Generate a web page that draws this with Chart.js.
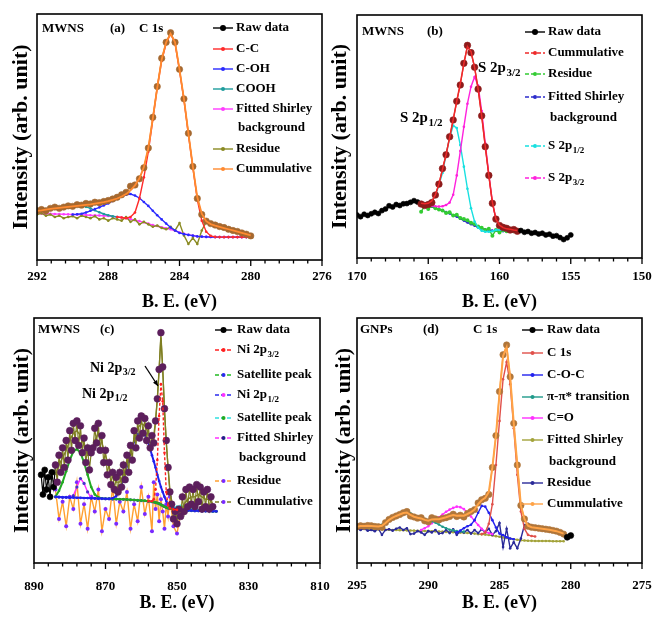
<!DOCTYPE html>
<html>
<head>
<meta charset="utf-8">
<script src="https://cdn.jsdelivr.net/npm/chart.js@4.4.1/dist/chart.umd.min.js"></script>
<style>
  html, body { margin: 0; padding: 0; background: #fff; }
  #wrap { position: relative; width: 654px; height: 619px; overflow: hidden; }
  canvas { position: absolute; }
</style>
</head>
<body>
<div id="wrap">
  <canvas id="chA" width="352" height="316" style="left:0;top:0"></canvas>
  <canvas id="chB" width="345" height="316" style="left:327px;top:0"></canvas>
  <canvas id="chC" width="350" height="309" style="left:0;top:310px"></canvas>
  <canvas id="chD" width="345" height="309" style="left:327px;top:310px"></canvas>
</div>
<script>
const FONT = "'Liberation Serif', 'Times New Roman', serif";
Chart.defaults.font.family = FONT;
Chart.defaults.font.weight = 'bold';
Chart.defaults.color = '#000';

// ---------- (a) MWNS, C 1s ----------
const beA = [292, 291.75, 291.5, 291.25, 291, 290.75, 290.5, 290.25, 290, 289.75, 289.5, 289.25, 289, 288.75, 288.5, 288.25,
  288, 287.75, 287.5, 287.25, 287, 286.75, 286.5, 286.25, 286, 285.75, 285.5, 285.25, 285, 284.75, 284.5, 284.25,
  284, 283.75, 283.5, 283.25, 283, 282.75, 282.5, 282.25, 282, 281.75, 281.5, 281.25, 281, 280.75, 280.5, 280.25, 280];
const rawA = [20, 20.5, 20, 21, 21.5, 21, 21.5, 22, 21.8, 22.5, 22.3, 23, 22.8, 23.5, 23.3, 23.8,
  24.2, 24.8, 25.5, 26.5, 27.5, 30, 30.5, 33, 37.5, 45.5, 58, 70.5, 82, 88.5, 92.4, 88.5,
  77.5, 65.5, 51.5, 38, 25, 18.5, 15.8, 14.8, 14.2, 13.6, 13.2, 12.5, 12, 11.6, 11, 10.5, 9.8];
const cumA = [20, 20.2, 20.5, 20.8, 21, 21.2, 21.4, 21.6, 21.8, 22, 22.2, 22.4, 22.6, 22.9, 23.2, 23.5,
  23.9, 24.4, 25, 25.8, 26.8, 28.3, 30.3, 33.2, 37.8, 45.5, 57.5, 70, 81.5, 88.5, 92, 88.5,
  77.5, 65.5, 51.5, 38, 25.5, 18.8, 15.8, 14.6, 14, 13.5, 13, 12.5, 12, 11.5, 11, 10.5, 10];
const ccA = [null, null, null, null, null, null, null, null, null, null, null, null, null, null, null, null,
  null, null, 17.5, 17.3, 17, 17.5, 19.3, 25, 33.6, 44, 57, 70, 81, 88, 92, 88,
  77, 65, 51, 37.5, 24.5, 16, 11.5, 9.8, 9.4, 9.3, 9.3, 9.3, 9.3, 9.3, 9.3, 9.3, 9.3];
const cohA = [null, null, null, null, null, null, null, null, 18.5, 18.6, 18.8, 19.3, 20, 20.7, 21.4, 22.2,
  23, 24, 24.9, 25.9, 26.5, 26.8, 26.2, 25.2, 23.6, 22, 20, 18.2, 16.5, 14.8, 13.2, 12,
  11, 10.5, 10.2, 9.9, 9.6, 9.5, 9.4, 9.35, 9.3, 9.3, 9.3, 9.3, 9.3, 9.3, 9.3, 9.3, 9.3];
const coohA = [19.8, 20, 20.3, 20.6, 21, 21.3, 21.6, 21.8, 22, 22.1, 22, 21.6, 21, 20.2, 19.4, 18.7,
  18.2, 17.8, 17.5, null, null, null, null, null, null, null, null, null, null, null, null, null,
  null, null, null, null, null, null, null, null, null, null, null, null, null, null, null, null, null];
const bgA = [18.9, 18.85, 18.8, 18.75, 18.7, 18.65, 18.6, 18.55, 18.5, 18.45, 18.4, 18.3, 18.2, 18.15, 18.1, 18,
  17.9, 17.7, 17.5, 17.25, 17, 16.6, 16.2, 15.8, 15.3, 14.8, 14.2, 13.8, 13.3, 12.9, 12.5, 11.9,
  11.2, 10.7, 10.2, 9.9, 9.6, 9.5, 9.4, 9.35, 9.3, 9.3, 9.3, 9.3, 9.3, 9.3, 9.3, 9.3, 9.3];
const resA = [18.5, 19, 18, 18.5, 17.5, 18, 17, 17.5, 17.8, 17, 18, 17.5, 17, 17.8, 16.5, 17,
  16, 17, 16.5, 16, 17.5, 15.5, 16.5, 14.5, 15.5, 14.5, 13.5, 14, 13, 12.5, 13.5, 12,
  15, 10, 6.5, 9, 6.5, 12, 15.5, null, null, null, null, null, null, null, null, null, null];

// ---------- (b) MWNS, S 2p ----------
const beB = [170, 169.75, 169.5, 169.25, 169, 168.75, 168.5, 168.25, 168, 167.75, 167.5, 167.25, 167, 166.75, 166.5, 166.25,
  166, 165.75, 165.5, 165.25, 165, 164.75, 164.5, 164.25, 164, 163.75, 163.5, 163.25, 163, 162.75, 162.5, 162.25,
  162, 161.75, 161.5, 161.25, 161, 160.75, 160.5, 160.25, 160, 159.75, 159.5, 159.25, 159, 158.75, 158.5, 158.25,
  158, 157.75, 157.5, 157.25, 157, 156.75, 156.5, 156.25, 156, 155.75, 155.5, 155.25, 155];
const rawB = [17.7, 17, 18, 17.5, 18.2, 18.8, 18.3, 19.5, 20.2, 21.5, 21, 22, 21.6, 22.3, 22.4, 22.9,
  23.6, 23, 22.2, 21.6, 22, 22.8, 25.9, 30.4, 36.8, 42.5, 49.9, 56.8, 64.5, 71.2, 80.1, 87.5,
  84.5, 78.5, 69.5, 58.5, 45.8, 34, 22.5, 16, 13.4, 12.6, 12.2, 11.5, 11.7, 11, 11.3, 10.6,
  10.9, 10.2, 10.5, 9.9, 10.2, 9.5, 9.8, 9, 9.2, 8.4, 7.6, 8.3, 9.5];
const beFitB = [165.5, 165.25, 165, 164.75, 164.5, 164.25, 164, 163.75, 163.5, 163.25, 163, 162.75, 162.5, 162.25,
  162, 161.75, 161.5, 161.25, 161, 160.75, 160.5, 160.25, 160, 159.75, 159.5, 159.25, 159, 158.75];
const cumB = [22.5, 22.3, 22.5, 23.5, 26, 30.5, 36.5, 42.5, 49.5, 57, 64.5, 72, 80, 87,
  85, 78.5, 69.5, 58.5, 46, 34, 23, 16, 13.5, 12.5, 12, 11.8, 11.5, 11.3];
const resB = [19, 21.5, 20.2, 21.5, 20.5, 20, 19.5, 18.5, 18.8, 17.5, 17.8, 16.5, 16, 15.5,
  14.5, 14, 13, 12.5, 11.5, 12, 9.2, 11.5, 10.5, 11.5, 11, 11.5, 11, 11.2];
const bgB = [22.2, 22, 21.6, 21.1, 20.6, 20.1, 19.5, 18.9, 18.3, 17.6, 17, 16.2, 15.4, 14.6,
  13.9, 13.3, 12.7, 12.2, 11.8, 11.5, 11.3, 11.2, 11.1, 11, 11, 10.9, 10.9, 10.8];
const s12B = [22.3, 22.5, 22.8, 23.5, 25.5, 30, 35, 42.5, 49.5, 54.5, 53.5, 46.5, 37.6, 28.5,
  20.5, 15, 12.5, 11.2, 10.8, 10.8, 11, 11.5, 11.6, 11.5, 11.3, 11.2, 11, 10.9];
const s32B = [22.3, 22, 21.8, 21.5, 21.3, 21.2, 21.3, 21.8, 22.8, 26, 34, 44, 54, 63.5,
  70.5, 74.5, 71, 60.5, 47.2, 34.5, 23, 16, 13.5, 12.3, 11.6, 11.3, 11.1, 10.9];

// ---------- (c) MWNS, Ni 2p ----------
const beC = [888, 887.5, 887, 886.5, 886, 885.5, 885, 884.5, 884, 883.5, 883, 882.5, 882, 881.5, 881, 880.5,
  880, 879.5, 879, 878.5, 878, 877.5, 877, 876.5, 876, 875.5, 875, 874.5, 874, 873.5, 873, 872.5,
  872, 871.5, 871, 870.5, 870, 869.5, 869, 868.5, 868, 867.5, 867, 866.5, 866, 865.5, 865, 864.5,
  864, 863.5, 863, 862.5, 862, 861.5, 861, 860.5, 860, 859.5, 859, 858.5, 858, 857.5, 857, 856.5,
  856, 855.5, 855, 854.5, 854, 853.5, 853, 852.5, 852, 851.5, 851, 850.5, 850, 849.5, 849, 848.5,
  848, 847.5, 847, 846.5, 846, 845.5, 845, 844.5, 844, 843.5, 843, 842.5, 842, 841.5, 841, 840.5, 840];
const rawC = [36, 28, 38, 30, 35, 27, 37, 31, 40, 33, 44, 37, 47, 39, 50, 42,
  54, 46, 57, 50, 58, 48, 56, 45, 51, 41, 47, 38, 45, 47, 55, 49,
  57, 46, 52, 41, 46, 36, 41, 32, 37, 30, 35, 29, 37, 31, 40, 34,
  44, 37, 48, 42, 54, 47, 58, 51, 60, 53, 59, 50, 56, 47, 52, 49,
  58, 67, 79, 94, 80, 63, 50, 39, 29, 24, 18, 21, 16, 22, 19, 27,
  21, 30, 23, 31, 24, 30, 23, 32, 25, 31, 22, 29, 23, 30, 22, 27, 23];
const beFitC = [884, 883, 882, 881, 880, 879, 878, 877, 876, 875, 874, 873, 872, 871, 870, 869, 868, 867, 866, 865,
  864, 863, 862, 861, 860, 859, 858, 857, 856.5, 856, 855.5, 855, 854.5, 854, 853.5, 853, 852.5, 852,
  851, 850, 849, 848, 847, 846, 845, 844, 843, 842, 841, 840, 839];
const ni32C = [null, null, null, null, null, null, null, null, null, null, null, null, null, null, null, null,
  null, null, null, null, null, null, null, null, null, null, 25.2, 25.2, 26, 30, 42, 60, 73, 66, 45, 29, 23.5, 22.3,
  21.9, 21.7, null, null, null, null, null, null, null, null, null, null, null];
const sat1C = [27, 29.5, 33, 37.5, 42, 45.5, 46.5, 45, 41, 36, 31, 28, 26.8, 26.4, 26.2, 26.2, 26.1, 26.1, 26, 26,
  25.9, 25.8, 25.7, 25.6, 25.5, 25.4, 25.2, 25, 24.9, 24.7, 24.5, 24.2, 23.8, 23.4, 23, 22.7, 22.4, 22.2,
  21.9, 21.7, 21.6, 21.5, 21.4, 21.4, 21.3, 21.3, 21.2, 21.2, 21.2, 21.1, 21.1];
const ni12C = [27, 26.9, 26.8, 26.8, 26.7, 26.7, 26.6, 26.6, 26.5, 26.5, 26.4, 26.4, 26.3, 26.3, 26.2, 26.2, 26.4, 27.3, 30, 34,
  39.5, 45, 49.5, 52.5, 53.6, 52.5, 49, 44, 41.5, 39, 36, 33.5, 31, 29, 27, 25.3, 24, 23.2,
  22.3, 21.9, 21.7, 21.5, 21.4, 21.4, 21.3, 21.3, 21.2, 21.2, 21.2, 21.1, 21.1];
const sat2C = [null, null, null, null, null, null, null, null, null, null, null, null, null, null, null, null, null, null, null, null,
  null, null, null, null, null, null, null, null, null, null, null, null, null, null, null, null, null, 22.2,
  22.5, 23, 23.3, 23.2, 22.7, 22.2, 21.8, 21.5, 21.3, 21.2, 21.2, 21.1, null];
const bgC = [27, 26.9, 26.8, 26.8, 26.7, 27.5, 31, 34.5, 32.5, 29, 26.5, 26.4, 26.3, 26.3, 26.2, 26.2, 26.1, 26.1, 26, 26,
  25.9, 25.8, 25.7, 25.6, 25.5, 25.4, 25.2, 25, 24.9, 24.7, 24.5, 24.2, 23.8, 23.4, 23, 22.7, 22.4, 22.2,
  21.9, 21.7, 21.6, 21.5, 21.4, 21.4, 21.3, 21.3, 21.2, 21.2, 21.2, 21.1, 21.1];
const resC = [30, 18, 25, 15, 27, 22, 33, 16, 24, 14, 27, 21, 30, 13, 22, 18, 31, 16, 25, 21,
  29, 14, 24, 17, 31, 20, 27, 13, 33, 22, 28, 17, 26, 21, 14, 24, 19, 27,
  15, 12, 20, null, null, null, null, null, null, null, null, null, null];
const cumC = [36, 40, 43, 46, 50, 53, 54, 52, 48, 44, 44, 50, 53, 49, 44, 39, 35, 33, 33, 36,
  40, 45, 50, 55, 57, 56, 53, 50, 52, 58, 67, 79, 92, 79, 62, 49, 39, 30,
  21, 19, 21, 24, 26, 27, 27, 28, 27, 26, 26, 24, null];

// ---------- (d) GNPs, C 1s ----------
const beD = [295, 294.75, 294.5, 294.25, 294, 293.75, 293.5, 293.25, 293, 292.75, 292.5, 292.25, 292, 291.75, 291.5, 291.25,
  291, 290.75, 290.5, 290.25, 290, 289.75, 289.5, 289.25, 289, 288.75, 288.5, 288.25, 288, 287.75, 287.5, 287.25,
  287, 286.75, 286.5, 286.25, 286, 285.75, 285.5, 285.25, 285, 284.75, 284.5, 284.25, 284, 283.75, 283.5, 283.25,
  283, 282.75, 282.5, 282.25, 282, 281.75, 281.5, 281.25, 281, 280.75, 280.5, 280.25, 280];
const rawD = [14.8, 15.2, 15, 15.3, 15.2, 14.9, 14.8, 14.6, 16.5, 17.8, 18.6, 19.2, 19.8, 20.5, 21, 19.2,
  18.8, 18.3, 18.5, 17.2, 16.8, 18.5, 18, 17.6, 18.2, 18.5, 19, 19.9, 19, 19.5, 18.8, 20.2,
  21, 21.8, 24.5, 25.8, 26.4, 28, 39, 52, 70, 85, 89, 76, 57, 40, 23.5, 18,
  15, 14.6, 14.4, 14.2, 14, 13.8, 13.6, 13.3, 13, 12.5, 11.8, 10.5, 11.2];
const c1sD = [null, null, null, null, null, null, null, null, null, null, null, null, null, null, null, null,
  null, null, null, null, null, null, null, null, null, null, null, null, null, null, null, null,
  null, null, null, 11.8, 12.5, 16, 24, 40, 58, 75, 82, 73, 55, 36, 21, 14,
  11.5, 11, 10.8, null, null, null, null, null, null, null, null, null, null];
const cocD = [null, null, null, null, null, null, null, null, null, null, null, null, null, null, null, null,
  null, null, null, null, null, null, null, null, null, null, null, null, 12.5, 13.2, 14.2, 15,
  15.6, 17.5, 20.5, 23.3, 23, 20.5, 17.5, 14.5, 12, 11.4, 10.5, 10, 9.7, null, null, null,
  null, null, null, null, null, null, null, null, null, null, null, null, null];
const piD = [14.6, 14.6, 14.6, 14.7, 14.8, 14.9, 15.2, 15.6, 16.5, 17.5, 18.5, 19.3, 20, 20.5, 20.8, 20.3,
  19.5, 18.9, 18.3, 17.9, 17.5, 17, 16.5, 15.7, 14.8, 14.2, 13.6, 13.3, 13, 12.9, 12.8, null,
  null, null, null, null, null, null, null, null, null, null, null, null, null, null, null, null,
  null, null, null, null, null, null, null, null, null, null, null, null, null];
const coD = [null, null, null, null, null, null, null, null, null, null, null, null, null, null, null, null,
  null, null, 13.5, 14.2, 15, 16.2, 17.5, 18.7, 19.8, 20.9, 21.8, 22.5, 23, 22.8, 22, 20.6,
  19, 17.2, 15.5, 14, 12.8, 12.2, 11.8, null, null, null, null, null, null, null, null, null,
  null, null, null, null, null, null, null, null, null, null, null, null, null];
const bgD = [14, 13.95, 13.9, 13.85, 13.8, 13.75, 13.7, 13.65, 13.6, 13.55, 13.5, 13.45, 13.4, 13.35, 13.3, 13.25,
  13.2, 13.15, 13.1, 13.05, 13, 12.95, 12.9, 12.85, 12.8, 12.7, 12.6, 12.55, 12.5, 12.4, 12.3, 12.25,
  12.2, 12, 11.8, 11.7, 11.6, 11.4, 11.2, 10.95, 10.7, 10.45, 10.2, 9.95, 9.7, 9.5, 9.3, 9.2,
  9.1, 9.05, 9, 9, 9, 8.95, 8.95, 8.9, 8.9, 8.9, 8.9, null, null];
const resD = [14, 13.5, 14, 13.2, 13.5, 13, 14, 11.5, 13.5, 13.8, 13.2, 14, 14.5, 13.5, 14.2, 11.8,
  12, 13, 12.5, 11.5, 13, 12.5, 13.5, 12, 12.2, 13.5, 12.2, 13.8, 11.5, 13, 12.5, 13.5,
  12, 13.5, 12.2, 13.8, 12.5, 14, 11.5, 13, 16.3, 6.5, 14, 6, 8.5, 6, 10, 15.5,
  16, null, null, null, null, null, null, null, null, null, null, null, null];
const cumD = [14.8, 15.1, 15.1, 15.2, 15.1, 15, 14.9, 15.2, 16.3, 17.6, 18.5, 19.2, 19.8, 20.4, 20.6, 19.6,
  18.9, 18.5, 18.2, 17.6, 17.3, 17.8, 17.9, 17.9, 18.3, 18.7, 19.2, 19.6, 19.3, 19.4, 19.3, 20,
  20.8, 21.8, 24, 25.6, 26.6, 29, 39, 52, 69, 84.5, 88, 76, 57, 40, 23.5, 18,
  15.2, 14.6, 14.4, 14.2, 14, 13.8, 13.6, 13.3, 13, 12.5, 12, null, null];

// ---------- helpers ----------
function pts(be, ys) {
  return be.map((x, i) => ({ x: x, y: ys[i] }));
}

function fit(label, be, ys, color, extra) {
  return Object.assign({
    label: label,
    data: pts(be, ys),
    borderColor: color,
    backgroundColor: color,
    borderWidth: 1.4,
    pointRadius: 1.3,
    pointBorderWidth: 0,
    pointBackgroundColor: color,
    spanGaps: false
  }, extra || {});
}

// raw data: tinted where the fit covers it, black outside
function raw(be, ys, hi, lo, tint, lineTint, rIn, rOut) {
  const inFit = x => x <= hi && x >= lo;
  return {
    label: 'Raw data',
    data: pts(be, ys),
    borderColor: '#000',
    borderWidth: 1.2,
    segment: {
      borderColor: c => (inFit(c.p0.parsed.x) && inFit(c.p1.parsed.x)) ? lineTint : '#000'
    },
    pointRadius: c => (c.raw && !inFit(c.raw.x)) ? rOut : rIn,
    pointBackgroundColor: c => (c.raw && !inFit(c.raw.x)) ? '#000' : tint,
    pointBorderColor: c => (c.raw && !inFit(c.raw.x)) ? '#000' : tint,
    pointBorderWidth: 0.6
  };
}

function drawRich(ctx, x, y, parts, size) {
  let cx = x;
  parts.forEach(p => {
    if (typeof p === 'string') {
      ctx.font = 'bold ' + size + 'px ' + FONT;
      ctx.fillText(p, cx, y);
      cx += ctx.measureText(p).width;
    } else {
      const s = Math.round(size * 0.7);
      ctx.font = 'bold ' + s + 'px ' + FONT;
      ctx.fillText(p.sub, cx + 0.5, y + size * 0.35);
      cx += ctx.measureText(p.sub).width + 0.5;
    }
  });
}

const panelDeco = {
  id: 'panelDeco',
  afterDraw(chart, args, o) {
    const ctx = chart.ctx, a = chart.chartArea, xs = chart.scales.x;
    ctx.save();
    ctx.strokeStyle = '#000';
    ctx.lineWidth = 1.6;
    ctx.strokeRect(a.left, a.top, a.right - a.left, a.bottom - a.top);

    // major + 4 minor ticks, pointing down
    ctx.lineWidth = 1.3;
    const n = Math.round((xs.max - xs.min) / o.step) * 5;
    for (let k = 0; k <= n; k++) {
      const px = xs.getPixelForValue(xs.min + k * o.step / 5);
      ctx.beginPath();
      ctx.moveTo(px, a.bottom);
      ctx.lineTo(px, a.bottom + (k % 5 === 0 ? 6 : 3.5));
      ctx.stroke();
    }

    ctx.fillStyle = '#000';
    ctx.textBaseline = 'middle';
    ctx.textAlign = 'left';
    o.notes.forEach(nt => drawRich(ctx, nt.x, nt.y, nt.parts, nt.size || 13));

    if (o.arrow) {
      const [x0, y0, x1, y1] = o.arrow;
      ctx.strokeStyle = '#000';
      ctx.lineWidth = 1.3;
      ctx.beginPath(); ctx.moveTo(x0, y0); ctx.lineTo(x1, y1); ctx.stroke();
      const ang = Math.atan2(y1 - y0, x1 - x0);
      ctx.beginPath();
      ctx.moveTo(x1, y1);
      ctx.lineTo(x1 - 6 * Math.cos(ang - 0.4), y1 - 6 * Math.sin(ang - 0.4));
      ctx.lineTo(x1 - 6 * Math.cos(ang + 0.4), y1 - 6 * Math.sin(ang + 0.4));
      ctx.closePath(); ctx.fill();
    }

    const L = o.legend;
    L.items.forEach(it => {
      ctx.strokeStyle = it.line;
      ctx.lineWidth = 1.4;
      ctx.setLineDash(it.dash ? [4, 2] : []);
      ctx.beginPath(); ctx.moveTo(L.x0, it.y); ctx.lineTo(L.x1, it.y); ctx.stroke();
      ctx.setLineDash([]);
      ctx.fillStyle = it.dot;
      ctx.beginPath(); ctx.arc((L.x0 + L.x1) / 2, it.y, it.r || 2, 0, Math.PI * 2); ctx.fill();
      ctx.fillStyle = '#000';
      drawRich(ctx, L.tx, it.y, it.parts, 13);
      if (it.more) drawRich(ctx, L.tx + 2, it.y + it.more.dy, it.more.parts, 13);
    });
    ctx.restore();
  }
};

function makeChart(id, datasets, g) {
  return new Chart(document.getElementById(id), {
    type: 'line',
    data: { datasets: datasets },
    options: {
      responsive: false,
      animation: false,
      layout: { padding: { left: 0, right: g.right, top: g.top, bottom: 0 } },
      scales: {
        x: {
          type: 'linear', reverse: true, min: g.min, max: g.max,
          afterFit: s => { s.height = g.xh; },
          grid: { display: false, drawTicks: false },
          border: { display: false },
          ticks: { stepSize: g.step, padding: g.tp, autoSkip: false, maxRotation: 0, color: '#000',
                   font: { size: 13, weight: 'bold' } },
          title: { display: true, text: 'B. E. (eV)', color: '#000',
                   font: { size: 18, weight: 'bold' }, padding: { top: 0, bottom: g.tb } }
        },
        y: {
          min: 0, max: 100,
          afterFit: s => { s.width = g.yw; },
          grid: { display: false },
          border: { display: false },
          ticks: { display: false },
          title: { display: true, text: 'Intensity (arb. unit)', color: '#000',
                   font: { size: 22, weight: 'bold' }, padding: { top: g.yt, bottom: 0 } }
        }
      },
      plugins: {
        legend: { display: false },
        tooltip: { enabled: false },
        panelDeco: g.deco
      }
    },
    plugins: [panelDeco]
  });
}

// ---------- panel (a) ----------
makeChart('chA', [
  fit('Cummulative', beA, cumA, '#ff8a30', { borderWidth: 1.8, pointRadius: 0 }),
  raw(beA, rawA, 292, 280, '#a5682f', '#ff8a30', 3.2, 3.2),
  fit('C-C', beA, ccA, '#ff2a2a'),
  fit('C-OH', beA, cohA, '#2a2aff'),
  fit('COOH', beA, coohA, '#1f9c9c'),
  fit('Residue', beA, resA, '#8a8a22'),
  fit('Fitted Shirley background', beA, bgA, '#ff3cff')
], {
  min: 276, max: 292, step: 4, right: 30, top: 14, yw: 37, xh: 56, tp: 8.5, tb: 3, yt: 8,
  deco: {
    step: 4,
    notes: [
      { x: 42, y: 29, parts: ['MWNS'] },
      { x: 110, y: 29, parts: ['(a)'] },
      { x: 139, y: 29, parts: ['C 1s'] }
    ],
    legend: {
      x0: 213, x1: 233, tx: 236,
      items: [
        { parts: ['Raw data'], line: '#000', dot: '#000', r: 3, y: 28 },
        { parts: ['C-C'], line: '#ff2a2a', dot: '#ff2a2a', y: 49 },
        { parts: ['C-OH'], line: '#2a2aff', dot: '#2a2aff', y: 69 },
        { parts: ['COOH'], line: '#1f9c9c', dot: '#1f9c9c', y: 89 },
        { parts: ['Fitted Shirley'], line: '#ff3cff', dot: '#ff3cff', y: 109, more: { dy: 19, parts: ['background'] } },
        { parts: ['Residue'], line: '#8a8a22', dot: '#8a8a22', y: 149 },
        { parts: ['Cummulative'], line: '#ff8a30', dot: '#ff8a30', y: 169 }
      ]
    }
  }
});

// ---------- panel (b) ----------
makeChart('chB', [
  fit('Cummulative', beFitB, cumB, '#ee2a2a', { borderWidth: 1.5, pointRadius: 0 }),
  raw(beB, rawB, 165.5, 158.75, '#8e1b1b', '#ee2a2a', 3.3, 2.5),
  fit('S 2p3/2', beFitB, s32B, '#ff22dd'),
  fit('S 2p1/2', beFitB, s12B, '#18e0e0'),
  fit('Residue', beFitB, resB, '#33cc33', { pointRadius: 2 }),
  fit('Fitted Shirley background', beFitB, bgB, '#2d2dcc')
], {
  min: 150, max: 170, step: 5, right: 30, top: 15, yw: 30, xh: 58, tp: 10.5, tb: 3, yt: 0,
  deco: {
    step: 5,
    notes: [
      { x: 35, y: 32, parts: ['MWNS'] },
      { x: 100, y: 32, parts: ['(b)'] },
      { x: 151, y: 68, parts: ['S 2p', { sub: '3/2' }], size: 15 },
      { x: 73, y: 118, parts: ['S 2p', { sub: '1/2' }], size: 15 }
    ],
    legend: {
      x0: 198, x1: 218, tx: 221,
      items: [
        { parts: ['Raw data'], line: '#000', dot: '#000', r: 3, y: 32 },
        { parts: ['Cummulative'], line: '#ee2a2a', dot: '#ee2a2a', dash: true, y: 53 },
        { parts: ['Residue'], line: '#33cc33', dot: '#33cc33', dash: true, y: 74 },
        { parts: ['Fitted Shirley'], line: '#2d2dcc', dot: '#2d2dcc', dash: true, y: 97, more: { dy: 21, parts: ['background'] } },
        { parts: ['S 2p', { sub: '1/2' }], line: '#18e0e0', dot: '#18e0e0', dash: true, y: 146 },
        { parts: ['S 2p', { sub: '3/2' }], line: '#ff22dd', dot: '#ff22dd', dash: true, y: 178 }
      ]
    }
  }
});

// ---------- panel (c) ----------
makeChart('chC', [
  fit('Ni 2p3/2', beFitC, ni32C, '#ff2020', { borderDash: [3, 2] }),
  raw(beC, rawC, 884, 840, '#5c1f5c', '#7f7f22', 3.4, 3),
  fit('Cummulative', beFitC, cumC, '#7f7f22', { pointRadius: 0 }),
  fit('Ni 2p1/2', beFitC, ni12C, '#2020ee', { borderWidth: 2 }),
  fit('Satellite peak', beFitC, sat1C, '#22aa22', { borderWidth: 2 }),
  fit('Satellite peak 2', beFitC, sat2C, '#30e0e0'),
  fit('Fitted Shirley background', beFitC, bgC, '#ff30ff', { pointBackgroundColor: '#4433cc', pointRadius: 1.6 }),
  fit('Residue', beFitC, resC, '#ffa030', { pointBackgroundColor: '#7a2aff', pointRadius: 2 })
], {
  min: 810, max: 890, step: 20, right: 30, top: 8, yw: 34, xh: 56, tp: 16, tb: 5, yt: 9,
  deco: {
    step: 20,
    notes: [
      { x: 38, y: 20, parts: ['MWNS'] },
      { x: 100, y: 20, parts: ['(c)'] },
      { x: 90, y: 58, parts: ['Ni 2p', { sub: '3/2' }], size: 14 },
      { x: 82, y: 84, parts: ['Ni 2p', { sub: '1/2' }], size: 14 }
    ],
    arrow: [145, 56, 158, 76],
    legend: {
      x0: 215, x1: 232, tx: 237,
      items: [
        { parts: ['Raw data'], line: '#000', dot: '#000', r: 3, y: 20 },
        { parts: ['Ni 2p', { sub: '3/2' }], line: '#ff2020', dot: '#ff2020', dash: true, y: 40 },
        { parts: ['Satellite peak'], line: '#22bb22', dot: '#2a2aee', dash: true, y: 65 },
        { parts: ['Ni 2p', { sub: '1/2' }], line: '#2a2aee', dot: '#ff30ff', dash: true, y: 85 },
        { parts: ['Satellite peak'], line: '#30e0e0', dot: '#22aa22', dash: true, y: 108 },
        { parts: ['Fitted Shirley'], line: '#ff30ff', dot: '#222288', dash: true, y: 128, more: { dy: 20, parts: ['background'] } },
        { parts: ['Residue'], line: '#ffa030', dot: '#7a2aff', dash: true, y: 171 },
        { parts: ['Cummulative'], line: '#7f7f22', dot: '#7a2aff', dash: true, y: 192 }
      ]
    }
  }
});

// ---------- panel (d) ----------
makeChart('chD', [
  fit('Cummulative', beD, cumD, '#ffa347', { borderWidth: 2, pointRadius: 0 }),
  raw(beD, rawD, 295, 280.5, '#b0763a', '#ffa347', 3.2, 3),
  fit('C 1s', beD, c1sD, '#e0504a'),
  fit('C-O-C', beD, cocD, '#2222ee'),
  fit('π-π* transition', beD, piD, '#1f9a8a'),
  fit('C=O', beD, coD, '#ff30ff'),
  fit('Residue', beD, resD, '#2a2a99'),
  fit('Fitted Shirley background', beD, bgD, '#a3a33a')
], {
  min: 275, max: 295, step: 5, right: 30, top: 8, yw: 30, xh: 56, tp: 15, tb: 5, yt: 4,
  deco: {
    step: 5,
    notes: [
      { x: 33, y: 20, parts: ['GNPs'] },
      { x: 96, y: 20, parts: ['(d)'] },
      { x: 146, y: 20, parts: ['C 1s'] }
    ],
    legend: {
      x0: 195, x1: 216, tx: 220,
      items: [
        { parts: ['Raw data'], line: '#000', dot: '#000', r: 3, y: 20 },
        { parts: ['C 1s'], line: '#e0504a', dot: '#e0504a', y: 43 },
        { parts: ['C-O-C'], line: '#2222ee', dot: '#2222ee', y: 65 },
        { parts: ['π-π* transition'], line: '#1f9a8a', dot: '#1f9a8a', y: 87 },
        { parts: ['C=O'], line: '#ff30ff', dot: '#ff30ff', y: 108 },
        { parts: ['Fitted Shirley'], line: '#a3a33a', dot: '#a3a33a', y: 130, more: { dy: 22, parts: ['background'] } },
        { parts: ['Residue'], line: '#2a2a99', dot: '#2a2a99', y: 173 },
        { parts: ['Cummulative'], line: '#ffa347', dot: '#ffa347', y: 194 }
      ]
    }
  }
});
</script>
</body>
</html>
